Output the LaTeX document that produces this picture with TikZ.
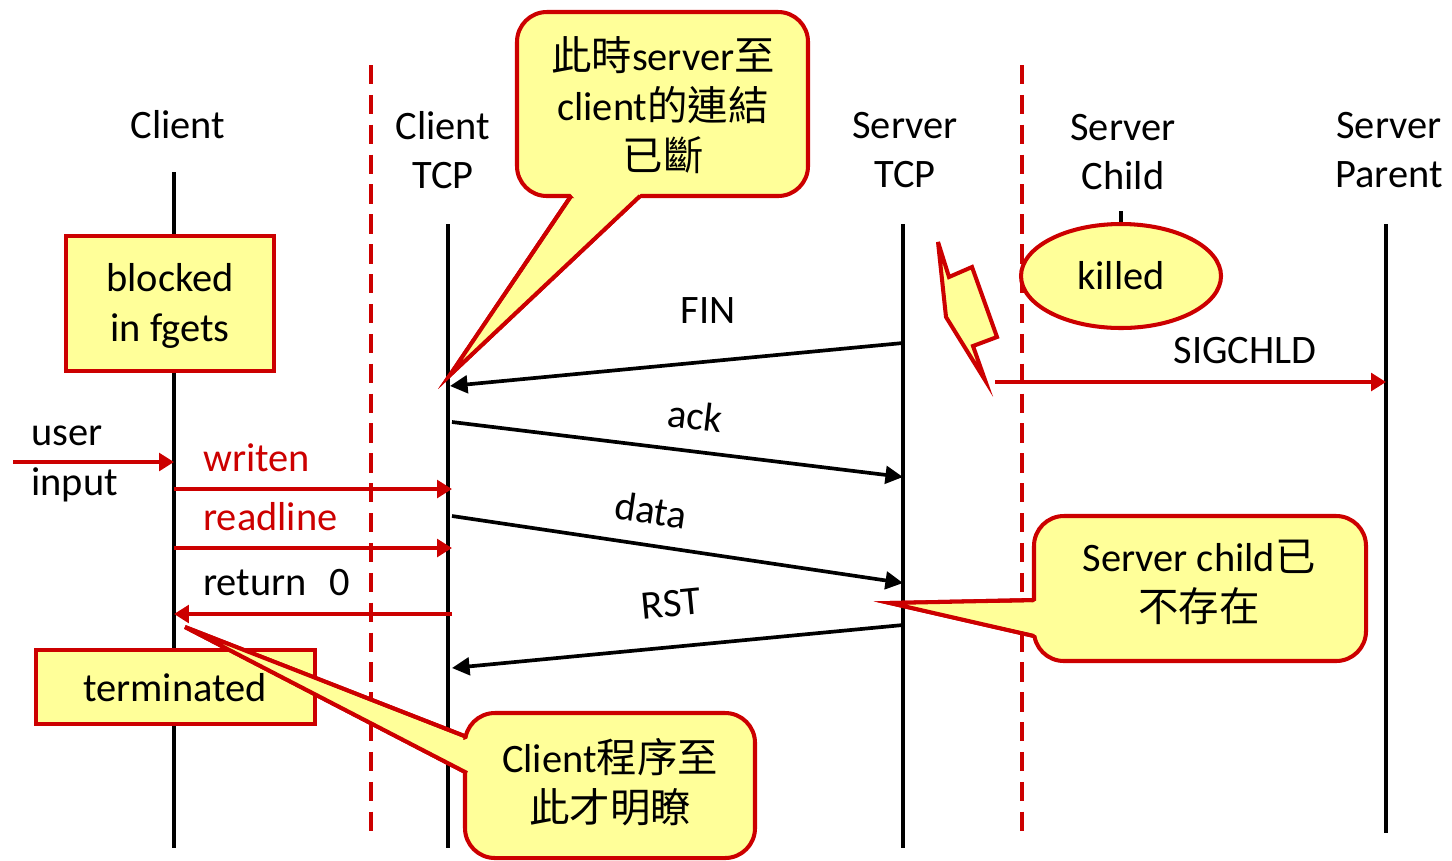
\documentclass[tikz,border=0pt]{standalone}
\usepackage{fontspec}
\setmainfont{Carlito}
\newfontfamily\cjk{Noto Sans CJK TC}
\usetikzlibrary{arrows.meta}
\definecolor{sred}{HTML}{CC0000}
\definecolor{sfill}{HTML}{FFFF99}

\begin{document}
\begin{tikzpicture}[x=0.02cm,y=-0.02cm,
  every node/.style={font=\fontsize{23}{28.3}\selectfont, inner sep=0pt, align=center},
  life/.style={line width=2.1pt, black},
  sep/.style={sred, line width=2.2pt, dash pattern=on 11pt off 6pt},
  msg/.style={line width=2.1pt, black, -{Triangle[length=10pt,width=10pt]}},
  call/.style={sred, line width=2.3pt, -{Triangle[length=8.5pt,width=10pt]}},
  notebox/.style={draw=sred, fill=sfill, line width=2.3pt},
  bubble/.style={draw=sred, fill=sfill, line width=2.3pt, rounded corners=17pt},
  tail/.style={draw=sred, fill=sfill, line width=2.3pt, line join=miter},
]
\useasboundingbox (0,0) rectangle (1452,860);

% lane separators
\draw[sep] (371,65) -- (371,833);
\draw[sep] (1022,65) -- (1022,833);

% headings
\node (hC)  at (178,125) {Client};
\node (hCT) at (443,150) {Client\\TCP};
\node (hST) at (905,150) {Server\\TCP};
\node (hSC) at (1123,152) {Server\\Child};
\node (hSP) at (1389,150) {Server\\Parent};

% lifelines
\coordinate (cTop) at (174,172);  \coordinate (cBot) at (174,848);
\coordinate (ctTop) at (448,224); \coordinate (ctBot) at (448,848);
\coordinate (stTop) at (903,224); \coordinate (stBot) at (903,848);
\coordinate (scTop) at (1121,211); \coordinate (scBot) at (1121,226);
\coordinate (spTop) at (1386,224); \coordinate (spBot) at (1386,833);
\draw[life] (cTop) -- (cBot);
\draw[life] (ctTop) -- (ctBot);
\draw[life] (stTop) -- (stBot);
\draw[life] (scTop) -- (scBot);
\draw[life] (spTop) -- (spBot);

% state boxes
\node[notebox, minimum width=208*0.02cm, minimum height=135*0.02cm] (blk) at (170,303.5) {};
\node at (170,306) {blocked\\in fgets};
\node[notebox, minimum width=279*0.02cm, minimum height=74*0.02cm] (term) at (175.5,687) {};
\node at (175,688) {terminated};
\draw[notebox] (1121,276) ellipse [x radius=100, y radius=52];
\node (kill) at (1121,276) {killed};

% lightning
\draw[tail] (938,242) -- (949,277) -- (972,267) -- (997,337) -- (973,346)
  -- (985,380) -- (946,317) -- cycle;

% message endpoints
\coordinate (finA) at (903,343);  \coordinate (finB) at (450,386);
\coordinate (ackA) at (452,422);  \coordinate (ackB) at (903,477);
\coordinate (datA) at (452,516);  \coordinate (datB) at (903,583);
\coordinate (rstA) at (903,625);  \coordinate (rstB) at (452,668);
\coordinate (sigA) at (995,382);  \coordinate (sigB) at (1386,382);
\coordinate (usrA) at (13,462);   \coordinate (usrB) at (174,462);
\coordinate (wrA) at (174,489);   \coordinate (wrB) at (452,489);
\coordinate (rdA) at (174,548);   \coordinate (rdB) at (452,548);
\coordinate (reA) at (452,614);   \coordinate (reB) at (174,614);

\draw[msg] (finA) -- (finB);
\draw[msg] (ackA) -- (ackB);
\draw[msg] (datA) -- (datB);
\draw[msg] (rstA) -- (rstB);
\draw[call] (sigA) -- (sigB);
\draw[call] (usrA) -- (usrB);
\draw[call] (wrA) -- (wrB);
\draw[call] (rdA) -- (rdB);
\draw[call] (reA) -- (reB);

% message labels
\node (lFin) at (708,311) {FIN};
\node[rotate=-7] (lAck) at (695,416) {ack};
\node[rotate=-8.5] (lDat) at (651,510) {data};
\node[rotate=5.5] (lRst) at (671,604) {RST};
\node (lSig) at (1245,351) {SIGCHLD};
\node[anchor=west, align=left] (lUsr) at (31,464) {user\\input};
\node[anchor=west, text=sred] (lWr) at (203,458) {writen};
\node[anchor=west, text=sred] (lRd) at (203,517) {readline};
\node[anchor=west] (lRe) at (203,583) {return\hspace{0.55em}0};

% callout: connection closed
\coordinate (t1) at (450,375);
\draw[tail] (571,196) -- (t1) -- (640,196);
\node[bubble, minimum width=291*0.02cm, minimum height=184*0.02cm] (b1) at (662.5,104) {};
\fill[sfill] (575,199) -- (t1) -- (636,199) -- (642,192) -- (569,192) -- cycle;
\draw[tail, fill=none] (571,196) -- (t1) -- (640,196);
\node at (663,105) {{\cjk 此時}server{\cjk 至}\\client{\cjk 的連結}\\{\cjk 已斷}};

% callout: server child gone
\coordinate (t2) at (890,603);
\draw[tail] (1034,600) -- (t2) -- (1034,636);
\node[bubble, minimum width=332*0.02cm, minimum height=145*0.02cm] (b2) at (1200,588.5) {};
\fill[sfill] (1031,603) -- (t2) -- (1031,633) -- (1038,636) -- (1038,600) -- cycle;
\draw[tail, fill=none] (1034,600) -- (t2) -- (1034,636);
\node at (1199,582) {Server child{\cjk 已}\\{\cjk 不存在}};

% callout: client finally notices
\coordinate (t3) at (185,627);
\draw[tail] (467,737) -- (t3) -- (467,773);
\node[bubble, minimum width=290*0.02cm, minimum height=145*0.02cm] (b3) at (610,785.5) {};
\fill[sfill] (464,740) -- (t3) -- (464,770) -- (471,773) -- (471,737) -- cycle;
\draw[tail, fill=none] (467,737) -- (t3) -- (467,773);
\node at (610,782) {Client{\cjk 程序至}\\{\cjk 此才明瞭}};
\end{tikzpicture}
\end{document}
